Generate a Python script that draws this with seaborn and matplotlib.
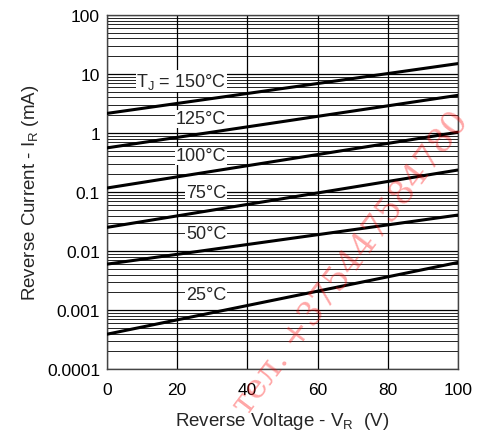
import numpy as np
import pandas as pd
import matplotlib
matplotlib.use('Agg')
import matplotlib.pyplot as plt
from matplotlib.ticker import LogLocator, FuncFormatter, MultipleLocator
import seaborn as sns

# data (two end points per temperature line)
voltage = [0, 100]
temps = ['150', '125', '100', '75', '50', '25']
current_0v = [2.15, 0.56, 0.117, 0.0252, 0.0060, 0.00039]
current_100v = [15.0, 4.35, 1.03, 0.236, 0.0407, 0.0064]

label_text = ['T$_\\mathregular{J}$ = 150°C', '125°C', '100°C', '75°C', '50°C', '25°C']
label_y = [7.6, 1.73, 0.41, 0.100, 0.0202, 0.0018]

rows = []
for t, a, b in zip(temps, current_0v, current_100v):
    rows.append({'V': voltage[0], 'I': a, 'T': t})
    rows.append({'V': voltage[1], 'I': b, 'T': t})
df = pd.DataFrame(rows)

sns.set_style('white')
plt.rcParams['font.family'] = ['Liberation Sans', 'DejaVu Sans']
plt.rcParams['mathtext.fontset'] = 'custom'
plt.rcParams['mathtext.rm'] = 'Liberation Sans'

fig = plt.figure(figsize=(4.81, 4.39), dpi=100)
ax = fig.add_axes([0.2225, 0.157, 0.7295, 0.8066])

sns.lineplot(data=df, x='V', y='I', hue='T', palette=['black'] * 6,
             linewidth=2.2, legend=False, ax=ax, zorder=3)

ax.set_yscale('log')
ax.set_xlim(0, 100)
ax.set_ylim(0.0001, 100)
ax.xaxis.set_major_locator(MultipleLocator(20))
ax.yaxis.set_major_locator(LogLocator(base=10, numticks=10))
ax.yaxis.set_minor_locator(LogLocator(base=10, subs=np.arange(2, 10), numticks=10))
ax.yaxis.set_major_formatter(FuncFormatter(lambda v, p: '{:g}'.format(v)))

ax.grid(True, which='major', color='black', linewidth=0.9)
ax.grid(True, which='minor', axis='y', color='black', linewidth=0.6)
ax.tick_params(axis='both', which='both', length=0, labelsize=12.5, colors='black')
ax.tick_params(axis='x', pad=9)
ax.tick_params(axis='y', pad=5)
for s in ax.spines.values():
    s.set_color('#444444')
    s.set_linewidth(1.0)

for txt, y in zip(label_text, label_y):
    ax.text(34, y, txt, ha='right', va='center', fontsize=13, zorder=4,
            bbox=dict(facecolor='white', edgecolor='none', pad=0.5))

ax.set_xlabel('Reverse Voltage - V$_\\mathregular{R}$  (V)', fontsize=13.5, labelpad=10)
ax.set_ylabel('Reverse Current - I$_\\mathregular{R}$ (mA)', fontsize=13.5, labelpad=4)

# watermark
fig.text(0.73, 0.40, 'тел. +375447584780', color='red', alpha=0.35, fontsize=24.5,
         rotation=53, ha='center', va='center', family=['DejaVu Serif'])

fig.savefig('out.png', dpi=100)
